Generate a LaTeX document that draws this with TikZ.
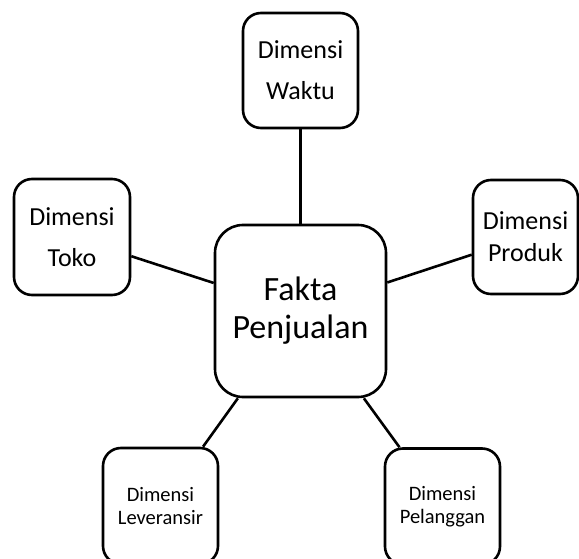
\documentclass[tikz,border=0pt]{standalone}
\usepackage{fontspec}
\setmainfont{Carlito}
\usetikzlibrary{positioning}

\begin{document}
\begin{tikzpicture}[
    x=1pt, y=-1pt,
    dimbox/.style={draw, line width=2.6pt, rounded corners=18pt, minimum width=115pt, minimum height=115pt, inner sep=0pt, align=center, font=\fontsize{26}{41}\selectfont},
    smallbox/.style={dimbox, font=\fontsize{20.5}{23}\selectfont},
    factbox/.style={draw, line width=2.6pt, rounded corners=28pt, minimum width=171pt, minimum height=172pt, inner sep=0pt, align=center, font=\fontsize{34}{38}\selectfont},
    link/.style={line width=2.6pt}
  ]
    \useasboundingbox (0,0) rectangle (579,559);
    \node[factbox] (fakta) at (300.5,311) {Fakta\\Penjualan};
    \node[dimbox] (waktu) at (300.5,70.5) {Dimensi\\Waktu};
    \node[dimbox, minimum width=116pt, minimum height=116pt] (toko) at (72,237) {Dimensi\\Toko};
    \node[dimbox, minimum width=105pt, minimum height=114pt, font=\fontsize{26}{32}\selectfont] (produk) at (525.5,237) {Dimensi\\Produk};
    \node[smallbox, minimum height=116pt] (leveransir) at (160.5,506) {Dimensi\\Leveransir};
    \node[smallbox, minimum height=116pt] (pelanggan) at (442.5,506.5) {Dimensi\\Pelanggan};
    \draw[link] (waktu) -- (fakta);
    \draw[link] (toko) -- (fakta);
    \draw[link] (produk) -- (fakta);
    \draw[link] (leveransir) -- (fakta);
    \draw[link] (pelanggan) -- (fakta);
  \end{tikzpicture}
\end{document}
